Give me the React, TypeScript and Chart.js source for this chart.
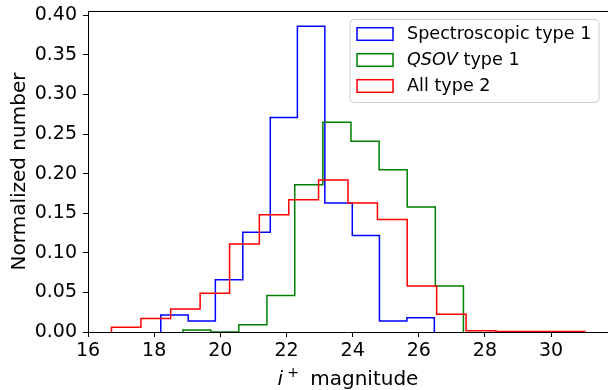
import React, { useEffect, useRef } from 'react';
import { Chart, registerables } from 'chart.js';

Chart.register(...registerables);

// ---- data ----
const xTicks = [16, 18, 20, 22, 24, 26, 28, 30];
const yTicks = [0, 0.05, 0.1, 0.15, 0.2, 0.25, 0.3, 0.35, 0.4];

const specEdges = [18.2, 19.03, 19.85, 20.68, 21.51, 22.33, 23.16, 23.99, 24.81, 25.64, 26.47];
const specValues = [0.0215, 0.014, 0.066, 0.126, 0.271, 0.386, 0.163, 0.122, 0.014, 0.018];

const qsovEdges = [18.87, 19.71, 20.56, 21.41, 22.25, 23.1, 23.95, 24.8, 25.65, 26.5, 27.35];
const qsovValues = [0.0025, 0.0, 0.009, 0.046, 0.186, 0.265, 0.241, 0.205, 0.158, 0.058];

const allEdges = [16.71, 17.6, 18.5, 19.39, 20.28, 21.18, 22.07, 22.97, 23.86, 24.75, 25.65, 26.54, 27.43, 28.33, 29.22, 30.12, 31.02];
const allValues = [0.006, 0.017, 0.029, 0.049, 0.111, 0.148, 0.167, 0.192, 0.163, 0.142, 0.058, 0.0225, 0.0015, 0.0005, 0.0005, 0.0005];

const seriesLabels = ['Spectroscopic type 1', 'QSOV type 1', 'All type 2'];
const italicWords = ['', 'QSOV', ''];
const seriesColors = ['#0000ff', '#008000', '#ff0000'];

const xTitleItalic = 'i';
const xTitleSup = '+';
const xTitleRest = 'magnitude';
const yTitle = 'Normalized number';

const FONT = "'DejaVu Sans', sans-serif";

function histPoints(edges: number[], values: number[]) {
  const pts: { x: number; y: number }[] = [{ x: edges[0], y: 0 }];
  values.forEach((v, i) => {
    pts.push({ x: edges[i], y: v });
    pts.push({ x: edges[i + 1], y: v });
  });
  pts.push({ x: edges[edges.length - 1], y: 0 });
  return pts;
}

const decorPlugin = {
  id: 'decor',
  afterDraw(chart: any) {
    const { ctx, chartArea } = chart;
    ctx.save();
    // top spine
    ctx.strokeStyle = '#000';
    ctx.lineWidth = 1;
    ctx.beginPath();
    ctx.moveTo(chartArea.left, Math.round(chartArea.top) + 0.5);
    ctx.lineTo(chartArea.right, Math.round(chartArea.top) + 0.5);
    ctx.stroke();

    // legend box
    const bx = 350, by = 19.5, bw = 249, bh = 83, r = 4;
    ctx.beginPath();
    ctx.moveTo(bx + r, by);
    ctx.lineTo(bx + bw - r, by);
    ctx.quadraticCurveTo(bx + bw, by, bx + bw, by + r);
    ctx.lineTo(bx + bw, by + bh - r);
    ctx.quadraticCurveTo(bx + bw, by + bh, bx + bw - r, by + bh);
    ctx.lineTo(bx + r, by + bh);
    ctx.quadraticCurveTo(bx, by + bh, bx, by + bh - r);
    ctx.lineTo(bx, by + r);
    ctx.quadraticCurveTo(bx, by, bx + r, by);
    ctx.closePath();
    ctx.fillStyle = 'rgba(255,255,255,0.8)';
    ctx.fill();
    ctx.strokeStyle = '#cccccc';
    ctx.lineWidth = 1;
    ctx.stroke();

    const rows = [34, 60, 86];
    chart.data.datasets.forEach((ds: any, i: number) => {
      const cy = rows[i];
      ctx.strokeStyle = ds.borderColor;
      ctx.lineWidth = 1.5;
      ctx.strokeRect(357, cy - 6.3, 36, 12.6);
      ctx.fillStyle = '#000';
      ctx.textBaseline = 'middle';
      ctx.textAlign = 'left';
      let x = 407;
      const it = italicWords[i];
      let rest = ds.label as string;
      if (it && rest.startsWith(it)) {
        ctx.font = `oblique 17.6px ${FONT}`;
        ctx.fillText(it, x, cy);
        x += ctx.measureText(it).width;
        rest = rest.slice(it.length);
      }
      ctx.font = `17.6px ${FONT}`;
      ctx.fillText(rest, x, cy);
    });

    // x title
    const cx = (chartArea.left + chartArea.right) / 2;
    const base = 385;
    ctx.fillStyle = '#000';
    ctx.textBaseline = 'alphabetic';
    ctx.textAlign = 'left';
    ctx.font = `oblique 20px ${FONT}`;
    const wI = ctx.measureText(xTitleItalic).width;
    ctx.font = `14px ${FONT}`;
    const wS = ctx.measureText(xTitleSup).width;
    ctx.font = `20px ${FONT}`;
    const wSp = ctx.measureText(' ').width;
    const wR = ctx.measureText(xTitleRest).width;
    const total = wI + 4 + wS + wSp + 5 + wR;
    let x0 = cx - total / 2;
    ctx.font = `oblique 20px ${FONT}`;
    ctx.fillText(xTitleItalic, x0, base);
    x0 += wI + 4;
    ctx.font = `14px ${FONT}`;
    ctx.fillText(xTitleSup, x0, base - 8);
    x0 += wS + wSp + 5;
    ctx.font = `20px ${FONT}`;
    ctx.fillText(xTitleRest, x0, base);

    // y title
    const cyMid = (chartArea.top + chartArea.bottom) / 2;
    ctx.save();
    ctx.translate(25, cyMid);
    ctx.rotate(-Math.PI / 2);
    ctx.textAlign = 'center';
    ctx.textBaseline = 'alphabetic';
    ctx.font = `20px ${FONT}`;
    ctx.fillText(yTitle, 0, 0);
    ctx.restore();

    ctx.restore();
  },
};

export default function App() {
  const ref = useRef<HTMLCanvasElement | null>(null);

  useEffect(() => {
    document.body.style.margin = '0';
    const canvas = ref.current;
    if (!canvas) return;
    const datasets = [
      { label: seriesLabels[0], data: histPoints(specEdges, specValues), borderColor: seriesColors[0], order: 2 },
      { label: seriesLabels[1], data: histPoints(qsovEdges, qsovValues), borderColor: seriesColors[1], order: 1 },
      { label: seriesLabels[2], data: histPoints(allEdges, allValues), borderColor: seriesColors[2], order: 0 },
    ].map((d) => ({
      ...d,
      borderWidth: 1.5,
      pointRadius: 0,
      fill: false,
      tension: 0,
      backgroundColor: 'transparent',
    }));

    const chart = new Chart(canvas, {
      type: 'line',
      data: { datasets },
      plugins: [decorPlugin],
      options: {
        animation: false,
        responsive: false,
        devicePixelRatio: 1,
        layout: { padding: { top: 11, right: 0, bottom: 0, left: 0 } },
        plugins: { legend: { display: false }, tooltip: { enabled: false } },
        events: [],
        scales: {
          x: {
            type: 'linear',
            min: 16,
            max: 31.72,
            afterBuildTicks: (scale: any) => {
              scale.ticks = xTicks.map((v) => ({ value: v }));
            },
            afterFit: (scale: any) => {
              scale.height = 58;
              scale.paddingLeft = 0;
              scale.paddingRight = 0;
            },
            ticks: {
              autoSkip: false,
              maxRotation: 0,
              padding: 3,
              color: '#000',
              font: { family: FONT, size: 19 },
              callback: (v: any) => String(v),
            },
            grid: { drawOnChartArea: false, drawTicks: true, tickLength: 5, color: '#000', tickWidth: 1 },
            border: { display: true, color: '#000', width: 1 },
          },
          y: {
            type: 'linear',
            min: 0,
            max: 0.4054,
            afterBuildTicks: (scale: any) => {
              scale.ticks = yTicks.map((v) => ({ value: v }));
            },
            afterFit: (scale: any) => {
              scale.width = 88;
              scale.paddingTop = 0;
              scale.paddingBottom = 0;
            },
            ticks: {
              autoSkip: false,
              padding: 6,
              color: '#000',
              font: { family: FONT, size: 19 },
              callback: (v: any) => Number(v).toFixed(2),
            },
            grid: { drawOnChartArea: false, drawTicks: true, tickLength: 5, color: '#000', tickWidth: 1 },
            border: { display: true, color: '#000', width: 1 },
          },
        },
      } as any,
    });
    return () => chart.destroy();
  }, []);

  return (
    <div style={{ width: 608, height: 390 }}>
      <canvas ref={ref} width={608} height={390} style={{ display: 'block', width: 608, height: 390 }} />
    </div>
  );
}
